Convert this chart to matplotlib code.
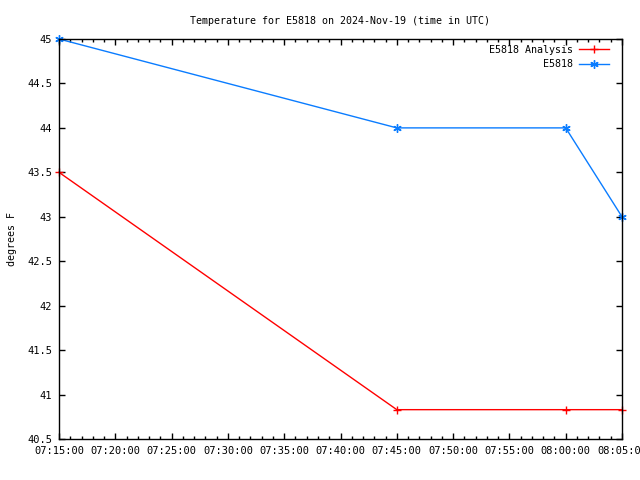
import matplotlib
matplotlib.use("Agg")
import matplotlib.pyplot as plt
import matplotlib.dates as mdates
from datetime import datetime

plt.rcParams['font.family'] = ['DejaVu Sans Mono']

times_analysis = ["07:15", "07:45", "08:00", "08:05"]
analysis_vals = [43.5, 40.83, 40.83, 40.83]
times_obs = ["07:15", "07:45", "08:00", "08:05"]
obs_vals = [45.0, 44.0, 44.0, 43.0]
y_ticks = [40.5, 41, 41.5, 42, 42.5, 43, 43.5, 44, 44.5, 45]
y_labels = ["40.5", "41", "41.5", "42", "42.5", "43", "43.5", "44", "44.5", "45"]

def t(s):
    return datetime.strptime("2024-11-19 " + s, "%Y-%m-%d %H:%M")

fig = plt.figure(figsize=(6.4, 4.8), dpi=100)
ax = fig.add_axes([59/640, 41/480, 563/640, 400/480])

ax.plot([t(s) for s in times_analysis], analysis_vals, color='#ff0000', lw=1,
        marker='+', ms=6, mew=1, label='E5818 Analysis', clip_on=False)
ax.plot([t(s) for s in times_obs], obs_vals, color='#0a7cff', lw=1,
        marker=(6, 2, 0), ms=6, mew=1, label='E5818', clip_on=False)

ax.set_xlim(t("07:15"), t("08:05"))
ax.set_ylim(40.5, 45)
ax.set_yticks(y_ticks)
ax.set_yticklabels(y_labels)
ax.xaxis.set_major_locator(mdates.MinuteLocator(byminute=range(0, 60, 5)))
ax.xaxis.set_minor_locator(mdates.MinuteLocator())
ax.xaxis.set_major_formatter(mdates.DateFormatter("%H:%M:%S"))

ax.tick_params(axis='both', which='both', direction='in', top=True, right=True,
               labelsize=7.5, colors='black')
ax.tick_params(axis='both', which='major', length=4.3, width=1, pad=5)
ax.tick_params(axis='x', which='minor', length=2.2, width=1)
for sp in ax.spines.values():
    sp.set_linewidth(1)

ax.set_title("Temperature for E5818 on 2024-Nov-19 (time in UTC)", fontsize=7.2, pad=11)
ax.set_ylabel("degrees F", fontsize=7.2)
ax.yaxis.set_label_coords(-42/563, 0.5)

leg = ax.legend(loc='upper right', bbox_to_anchor=(1 - 8/563, 1.0 - 1/400), markerfirst=False,
                frameon=False, fontsize=7.2, handlelength=3, borderaxespad=0.3,
                labelspacing=0.45, handletextpad=0.6, borderpad=0.2)
for txt in leg.get_texts():
    txt.set_ha('right')

fig.savefig("out.png", dpi=100)
